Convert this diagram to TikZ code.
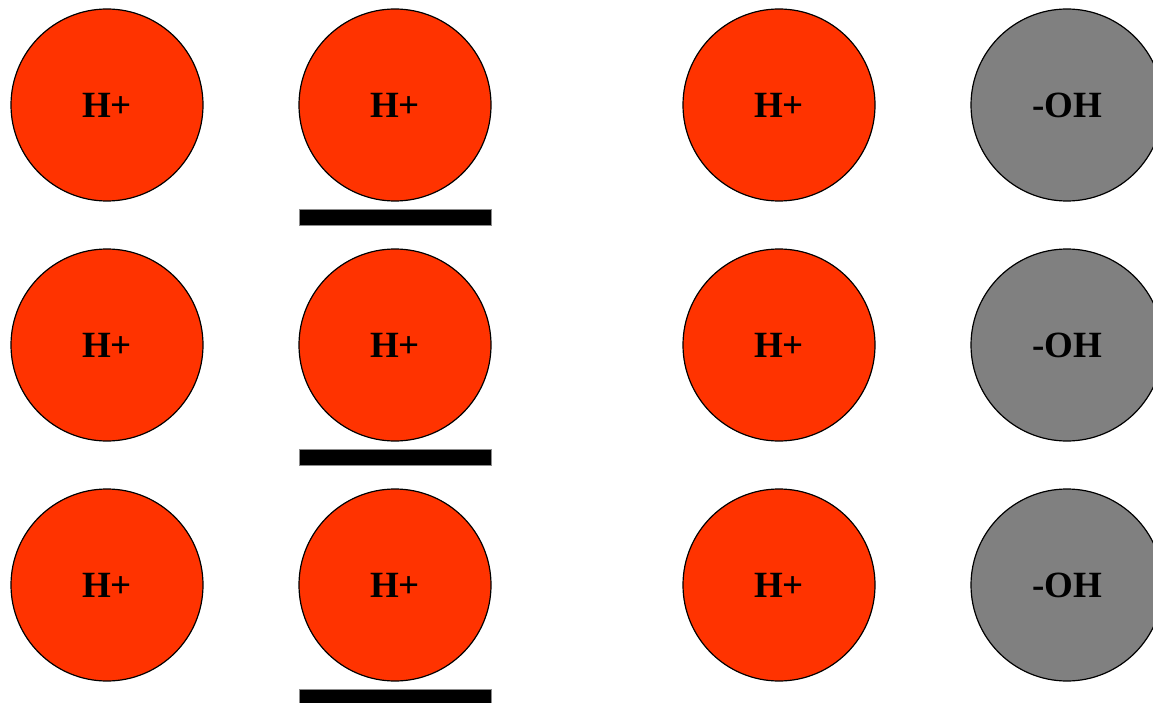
\documentclass[tikz,border=0pt]{standalone}
\usepackage{fontspec}
\setmainfont{Liberation Serif}
\usepackage{xcolor}
\usepackage{tikz}
\usetikzlibrary{positioning}
\definecolor{ionred}{HTML}{FF3300}
\definecolor{iongray}{HTML}{808080}

\begin{document}
\begin{tikzpicture}[
  x=1pt, y=-1pt,
  ion/.style={circle, draw=black, line width=1.2pt, minimum size=192pt, inner sep=0pt, font=\fontsize{37}{40}\selectfont\bfseries},
  proton/.style={ion, fill=ionred},
  hydroxide/.style={ion, fill=iongray},
  plate/.style={draw=black!45, line width=0.5pt, fill=black, minimum width=192pt, minimum height=16pt, inner sep=0pt}
]
\useasboundingbox (0,0) rectangle (1153,703);

\node[proton] (a1) at (107,105) {H+};
\node[proton] (a2) at (107,345) {H+};
\node[proton] (a3) at (107,585) {H+};

\node[proton] (b1) at (395,105) {H+};
\node[proton] (b2) at (395,345) {H+};
\node[proton] (b3) at (395,585) {H+};

\node[plate] (p1) at (395,217) {};
\node[plate] (p2) at (395,457) {};
\node[plate] (p3) at (395,697) {};

\node[proton] (c1) at (779,105) {H+};
\node[proton] (c2) at (779,345) {H+};
\node[proton] (c3) at (779,585) {H+};

\node[hydroxide] (d1) at (1067,105) {-OH};
\node[hydroxide] (d2) at (1067,345) {-OH};
\node[hydroxide] (d3) at (1067,585) {-OH};
\end{tikzpicture}
\end{document}
